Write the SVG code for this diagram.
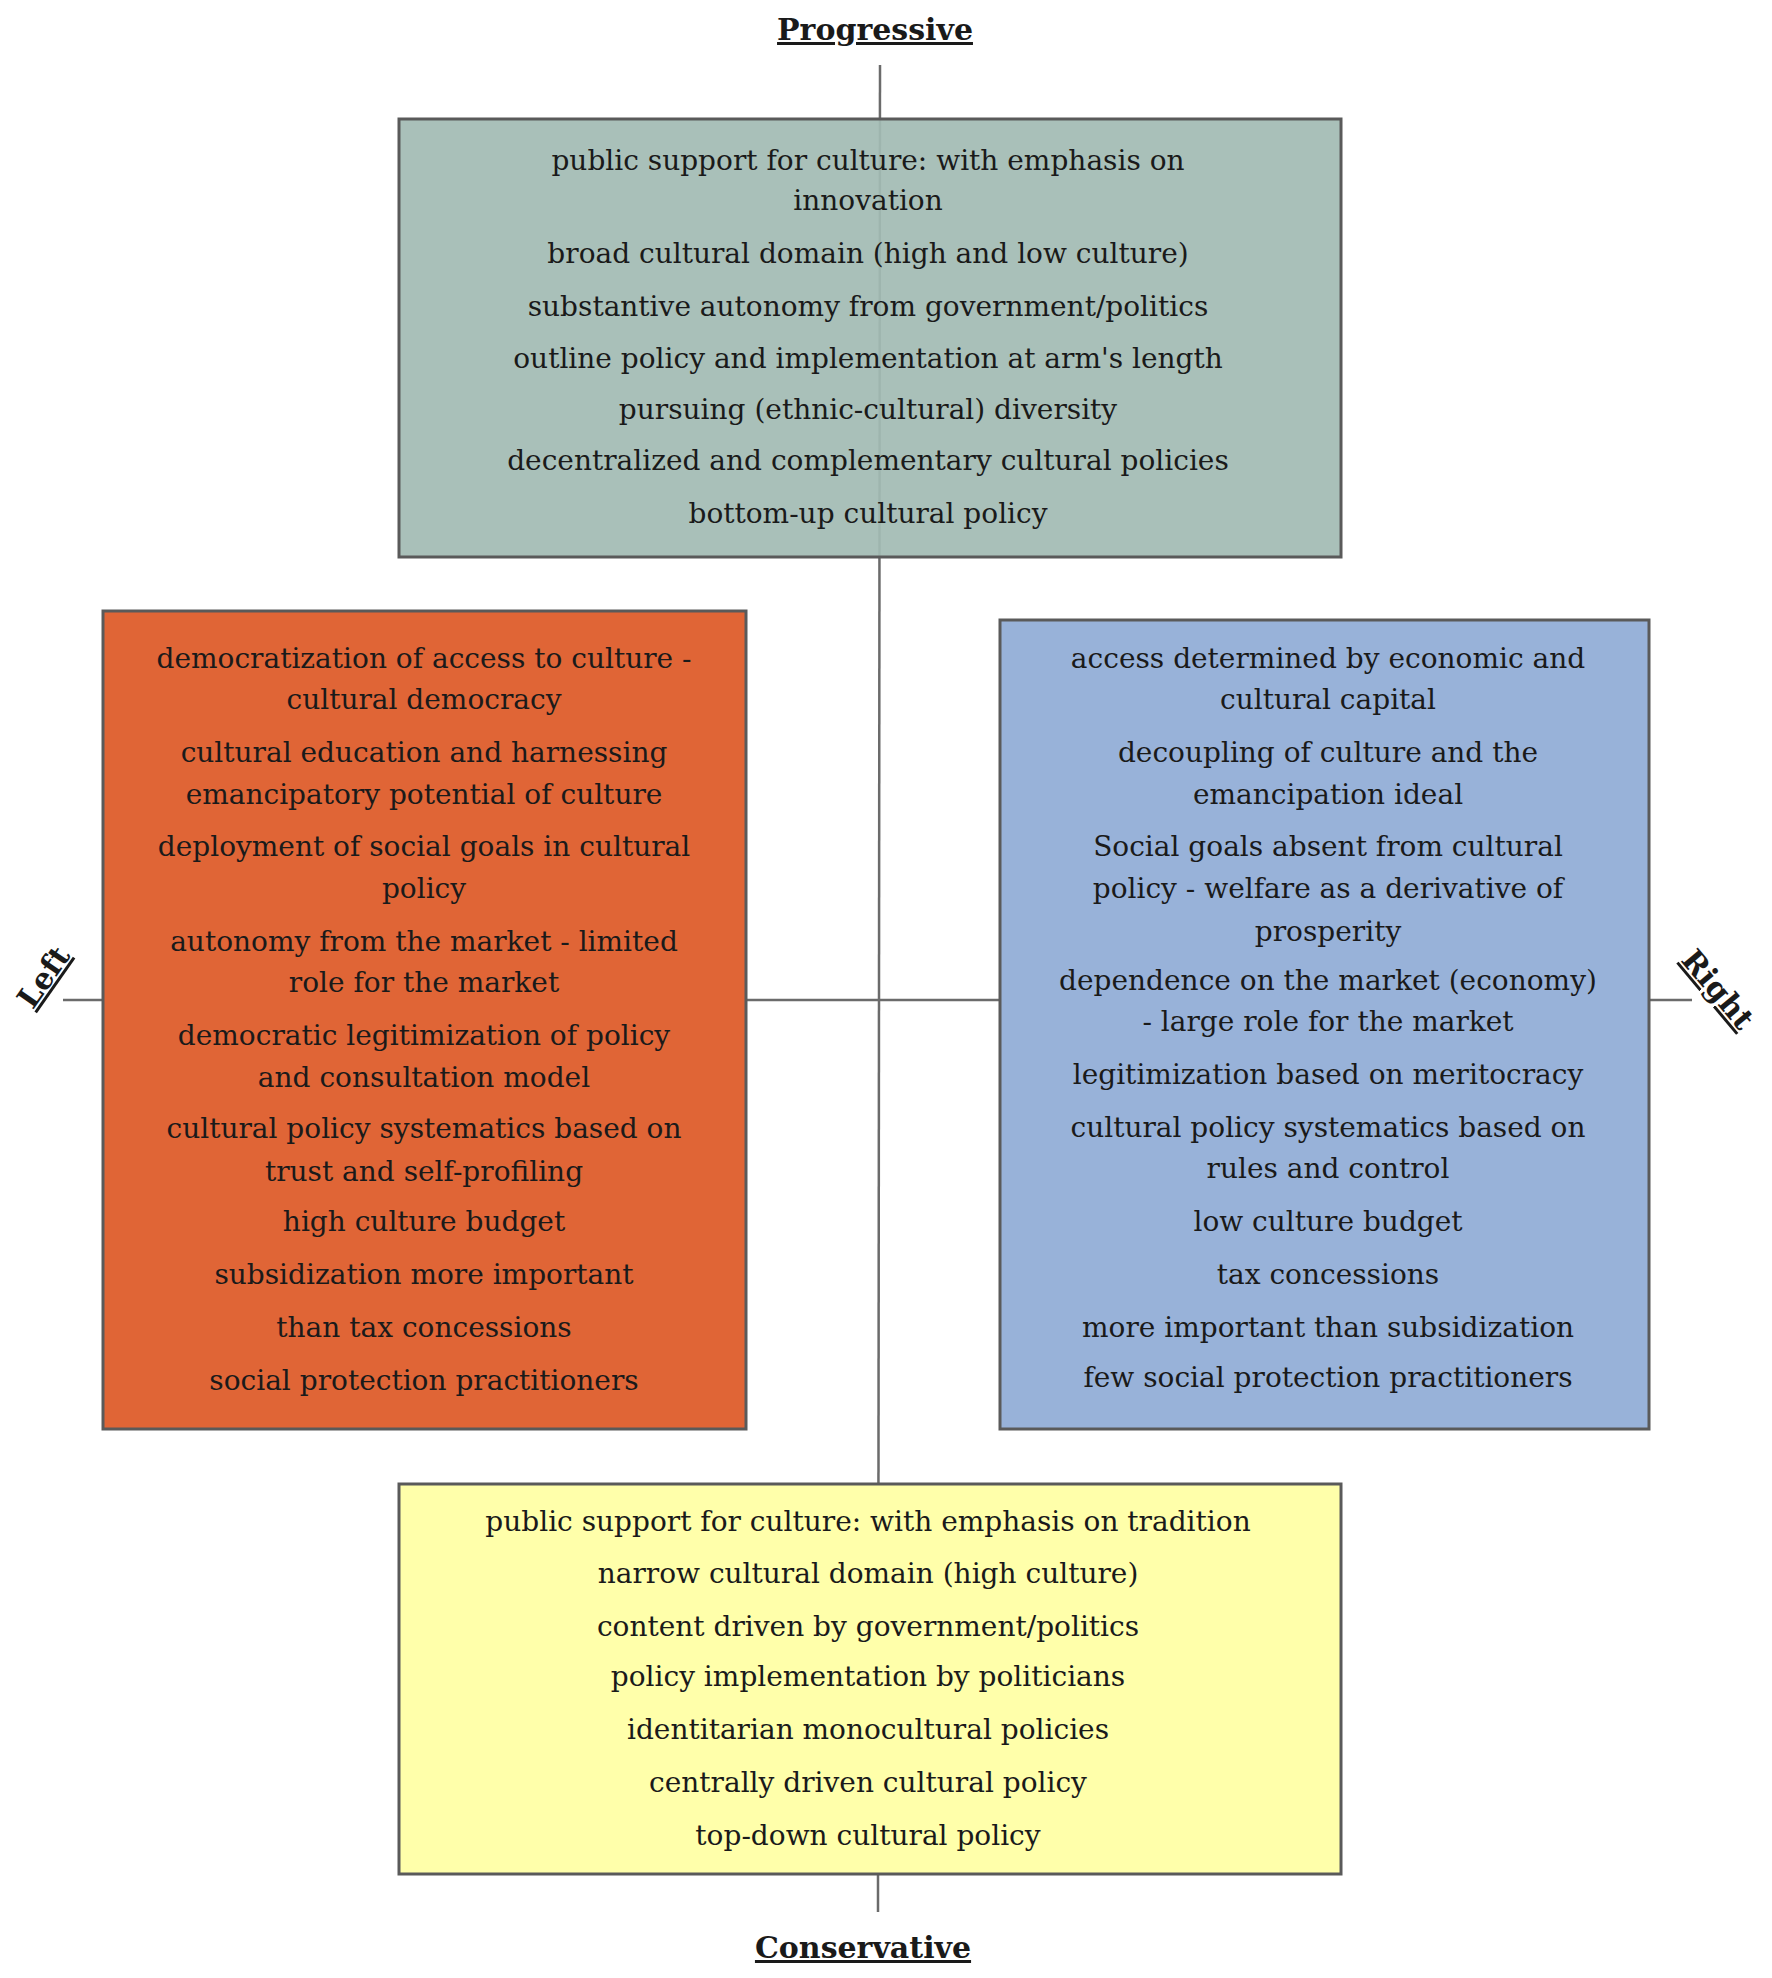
<svg xmlns="http://www.w3.org/2000/svg" width="1772" height="1978" viewBox="0 0 1772 1978">
<style>
.b{stroke:#5a5a5a;stroke-width:3}
.t{font-family:"DejaVu Serif","Liberation Serif",serif;font-size:28px;fill:#1a1a1a;text-anchor:middle}
.h{font-family:"DejaVu Serif","Liberation Serif",serif;font-size:30px;font-weight:bold;fill:#1a1a1a;text-anchor:middle;text-decoration:underline}
.ax{stroke:#6b6b6b;stroke-width:2.5}
</style>
<rect width="1772" height="1978" fill="#fff"/>
<g id="axes">
<line class="ax" x1="880" y1="65" x2="878" y2="1912"/>
<line class="ax" x1="63" y1="1000" x2="1692" y2="1000"/>
</g>
<text class="h" x="875" y="40">Progressive</text>
<text class="h" x="863" y="1958">Conservative</text>
<text class="h" transform="translate(52,983) rotate(-55)">Left</text>
<text class="h" transform="translate(1710,996) rotate(50)">Right</text>
<g id="progressive">
<rect class="b" x="399" y="119" width="942" height="438" fill="#a3bbb4" fill-opacity="0.93"/>
<text class="t" x="868" y="170">public support for culture: with emphasis on</text>
<text class="t" x="868" y="210">innovation</text>
<text class="t" x="868" y="263">broad cultural domain (high and low culture)</text>
<text class="t" x="868" y="316">substantive autonomy from government/politics</text>
<text class="t" x="868" y="368">outline policy and implementation at arm's length</text>
<text class="t" x="868" y="419">pursuing (ethnic-cultural) diversity</text>
<text class="t" x="868" y="470">decentralized and complementary cultural policies</text>
<text class="t" x="868" y="523">bottom-up cultural policy</text>
</g>
<g id="left">
<rect class="b" x="103" y="611" width="643" height="818" fill="#e06536"/>
<text class="t" x="424" y="668">democratization of access to culture -</text>
<text class="t" x="424" y="709">cultural democracy</text>
<text class="t" x="424" y="762">cultural education and harnessing</text>
<text class="t" x="424" y="804">emancipatory potential of culture</text>
<text class="t" x="424" y="856">deployment of social goals in cultural</text>
<text class="t" x="424" y="898">policy</text>
<text class="t" x="424" y="951">autonomy from the market - limited</text>
<text class="t" x="424" y="992">role for the market</text>
<text class="t" x="424" y="1045">democratic legitimization of policy</text>
<text class="t" x="424" y="1087">and consultation model</text>
<text class="t" x="424" y="1138">cultural policy systematics based on</text>
<text class="t" x="424" y="1181">trust and self-profiling</text>
<text class="t" x="424" y="1231">high culture budget</text>
<text class="t" x="424" y="1284">subsidization more important</text>
<text class="t" x="424" y="1337">than tax concessions</text>
<text class="t" x="424" y="1390">social protection practitioners</text>
</g>
<g id="right">
<rect class="b" x="1000" y="620" width="649" height="809" fill="#98b2d9"/>
<text class="t" x="1328" y="668">access determined by economic and</text>
<text class="t" x="1328" y="709">cultural capital</text>
<text class="t" x="1328" y="762">decoupling of culture and the</text>
<text class="t" x="1328" y="804">emancipation ideal</text>
<text class="t" x="1328" y="856">Social goals absent from cultural</text>
<text class="t" x="1328" y="898">policy - welfare as a derivative of</text>
<text class="t" x="1328" y="941">prosperity</text>
<text class="t" x="1328" y="990">dependence on the market (economy)</text>
<text class="t" x="1328" y="1031">- large role for the market</text>
<text class="t" x="1328" y="1084">legitimization based on meritocracy</text>
<text class="t" x="1328" y="1137">cultural policy systematics based on</text>
<text class="t" x="1328" y="1178">rules and control</text>
<text class="t" x="1328" y="1231">low culture budget</text>
<text class="t" x="1328" y="1284">tax concessions</text>
<text class="t" x="1328" y="1337">more important than subsidization</text>
<text class="t" x="1328" y="1387">few social protection practitioners</text>
</g>
<g id="conservative">
<rect class="b" x="399" y="1484" width="942" height="390" fill="#ffffaa"/>
<text class="t" x="868" y="1531">public support for culture: with emphasis on tradition</text>
<text class="t" x="868" y="1583">narrow cultural domain (high culture)</text>
<text class="t" x="868" y="1636">content driven by government/politics</text>
<text class="t" x="868" y="1686">policy implementation by politicians</text>
<text class="t" x="868" y="1739">identitarian monocultural policies</text>
<text class="t" x="868" y="1792">centrally driven cultural policy</text>
<text class="t" x="868" y="1845">top-down cultural policy</text>
</g>
</svg>
